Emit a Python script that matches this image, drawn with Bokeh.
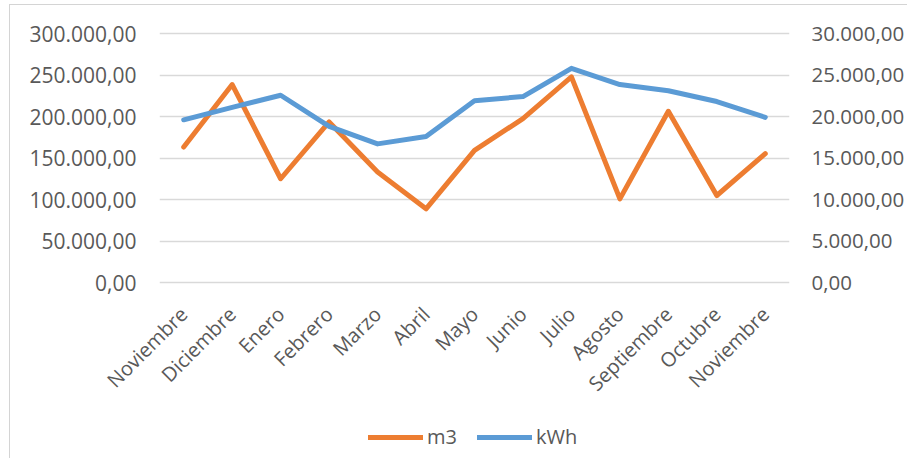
from bokeh.plotting import figure
from bokeh.layouts import column
from bokeh.models import Range1d, LinearAxis, FixedTicker, Legend, LegendItem
from bokeh.embed import file_html
from bokeh.resources import INLINE

months = ["Noviembre", "Diciembre", "Enero", "Febrero", "Marzo", "Abril", "Mayo",
          "Junio", "Julio", "Agosto", "Septiembre", "Octubre", "Noviembre"]
m3 = [163200, 238500, 125000, 193400, 133000, 88800, 159200, 197500, 247700,
      100800, 206300, 104800, 155200]
kwh = [19600, 21100, 22560, 18800, 16700, 17600, 21900, 22400, 25800,
       23850, 23100, 21800, 19900]
series_names = ["m3", "kWh"]

left_ticks = [0, 50000, 100000, 150000, 200000, 250000, 300000]
left_labels = ["0,00", "50.000,00", "100.000,00", "150.000,00", "200.000,00",
               "250.000,00", "300.000,00"]
right_ticks = [0, 5000, 10000, 15000, 20000, 25000, 30000]
right_labels = ["0,00", "5.000,00", "10.000,00", "15.000,00", "20.000,00",
                "25.000,00", "30.000,00"]

ORANGE = "#ED7D31"
BLUE = "#5B9BD5"
TEXT = "#595959"
GRID = "#D9D9D9"
EDGE = "#D4D4D4"
FONT = "Open Sans"

xs = list(range(len(months)))

# small padding so the 0 and max gridlines are not clipped by the frame
pad_left = 300000 * 3 / 249
pad_right = 30000 * 3 / 249

p = figure(width=907, height=410, output_backend="svg", toolbar_location=None,
           x_range=Range1d(-0.5, len(months) - 0.5),
           y_range=Range1d(-pad_left, 300000 + pad_left),
           min_border_left=159, min_border_right=112, min_border_top=30,
           min_border_bottom=125, y_axis_location=None)
p.outline_line_color = None
p.background_fill_color = None
p.border_fill_color = None
p.styles = {"background": f"linear-gradient({EDGE},{EDGE}) 9px 4px / 1px 100% no-repeat, "
                          f"linear-gradient({EDGE},{EDGE}) 9px 4px / 100% 1px no-repeat, white"}
p.extra_y_ranges = {"kwh": Range1d(-pad_right, 30000 + pad_right)}

def style_axis(ax, size):
    ax.axis_line_color = None
    ax.major_tick_line_color = None
    ax.minor_tick_line_color = None
    ax.major_tick_out = 0
    ax.major_tick_in = 0
    ax.major_label_text_font = FONT
    ax.major_label_text_font_size = size
    ax.major_label_text_color = TEXT

yl = LinearAxis(ticker=FixedTicker(ticks=left_ticks),
                major_label_overrides=dict(zip(left_ticks, left_labels)))
style_axis(yl, "21px")
yl.major_label_standoff = 23
p.add_layout(yl, "left")

yr = LinearAxis(y_range_name="kwh", ticker=FixedTicker(ticks=right_ticks),
                major_label_overrides=dict(zip(right_ticks, right_labels)))
style_axis(yr, "20.5px")
yr.major_label_standoff = 22
p.add_layout(yr, "right")

xa = p.xaxis[0]
xa.ticker = FixedTicker(ticks=xs)
xa.major_label_overrides = dict(zip(xs, months))
style_axis(xa, "20px")
xa.major_label_orientation = 0.7853981634
xa.major_label_standoff = 25

p.xgrid.visible = False
p.ygrid.ticker = FixedTicker(ticks=left_ticks)
p.ygrid.grid_line_color = GRID
p.ygrid.grid_line_width = 1.5

line_kw = dict(line_width=5, line_cap="round", line_join="round")
p.line(xs, m3, line_color=ORANGE, **line_kw)
p.line(xs, kwh, y_range_name="kwh", line_color=BLUE, **line_kw)

# legend strip below the chart (same series, drawn out of view so only the key shows)
lf = figure(width=907, height=48, output_backend="svg", toolbar_location=None,
            x_range=Range1d(1000, 1001), y_range=Range1d(0, 1),
            min_border=0, x_axis_location=None, y_axis_location=None)
lf.outline_line_color = None
lf.background_fill_color = None
lf.border_fill_color = None
lf.styles = {"background": f"linear-gradient({EDGE},{EDGE}) 9px 0px / 1px 100% no-repeat, white"}
lf.grid.visible = False
lr1 = lf.line(xs, m3, line_color=ORANGE, **line_kw)
lr2 = lf.line(xs, kwh, line_color=BLUE, **line_kw)

legend = Legend(items=[LegendItem(label=series_names[0], renderers=[lr1]),
                       LegendItem(label=series_names[1], renderers=[lr2])],
                orientation="horizontal", location=(209, 8),
                padding=0, margin=0, spacing=20, label_standoff=4,
                glyph_width=55, glyph_height=24, label_height=24,
                label_text_font=FONT, label_text_font_size="20px",
                label_text_color=TEXT, border_line_color=None,
                background_fill_alpha=0)
lf.add_layout(legend, "center")

layout = column(p, lf, spacing=0)
open("out.html", "w").write(file_html(layout, INLINE))
